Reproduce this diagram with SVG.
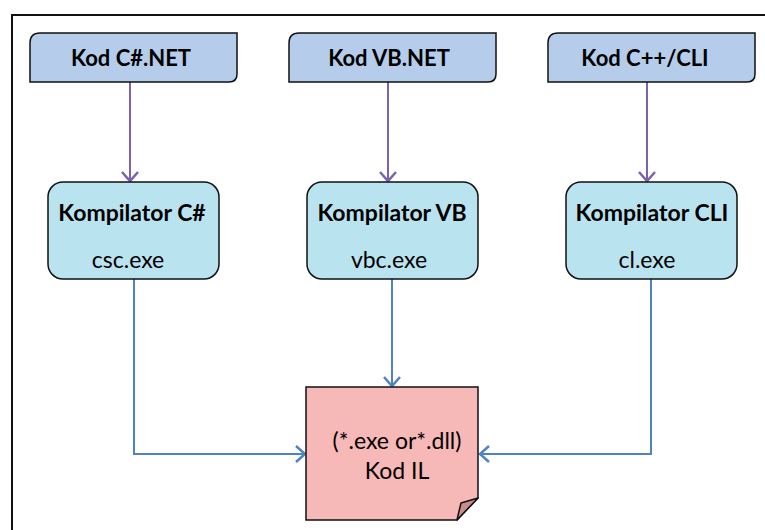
<svg xmlns="http://www.w3.org/2000/svg" width="765" height="530" viewBox="0 0 765 530">
<style>
.src{fill:#b5cdea;stroke:#111;stroke-width:1.5}
.cmp{fill:#bae3f0;stroke:#111;stroke-width:1.5}
.t{font-family:"Lato","Liberation Sans",sans-serif;fill:#000;text-anchor:middle}
.b{font-weight:bold;font-size:22px}
.b2{font-weight:bold;font-size:23px}
.r{font-size:23px}
.p{stroke:#7b63ad;stroke-width:2;fill:none}
.bl{stroke:#4f83c4;stroke-width:2;fill:none}
</style>
<defs>
<marker id="ap" markerWidth="20" markerHeight="20" refX="10" refY="10" orient="auto" markerUnits="userSpaceOnUse">
<path d="M1,2 L10,10 L1,18" fill="none" stroke="#7b63ad" stroke-width="2.5"/>
</marker>
<marker id="ab" markerWidth="20" markerHeight="20" refX="10" refY="10" orient="auto" markerUnits="userSpaceOnUse">
<path d="M1,2 L10,10 L1,18" fill="none" stroke="#4f83c4" stroke-width="2.5"/>
</marker>
</defs>
<rect x="12" y="15" width="770" height="530" fill="#fff" stroke="#111" stroke-width="2"/>
<g id="connectors">
<line class="p" x1="130" y1="82" x2="130" y2="181" marker-end="url(#ap)"/>
<line class="p" x1="388" y1="82" x2="388" y2="181" marker-end="url(#ap)"/>
<line class="p" x1="647" y1="82" x2="647" y2="181" marker-end="url(#ap)"/>
<polyline class="bl" points="134,279 134,454 305,454" marker-end="url(#ab)"/>
<line class="bl" x1="392" y1="279" x2="392" y2="386" marker-end="url(#ab)"/>
<polyline class="bl" points="651,279 651,454 480,454" marker-end="url(#ab)"/>
</g>
<g id="src-cs">
<path class="src" d="M40,33 H237 V74 Q237,82 229,82 H30 V43 Q30,33 40,33 Z"/>
<text class="t b" x="131" y="66">Kod C#.NET</text>
</g>
<g id="src-vb">
<path class="src" d="M299,33 H496 V74 Q496,82 488,82 H289 V43 Q289,33 299,33 Z"/>
<text class="t b" x="389" y="66">Kod VB.NET</text>
</g>
<g id="src-cpp">
<path class="src" d="M558,33 H755 V74 Q755,82 747,82 H548 V43 Q548,33 558,33 Z"/>
<text class="t b" x="645" y="66">Kod C++/CLI</text>
</g>
<g id="cmp-cs">
<rect class="cmp" x="48" y="182" width="171" height="97" rx="15"/>
<text class="t b2" x="132" y="221">Kompilator C#</text>
<text class="t r" x="128" y="268">csc.exe</text>
</g>
<g id="cmp-vb">
<rect class="cmp" x="307" y="182" width="171" height="97" rx="15"/>
<text class="t b2" x="392" y="221">Kompilator VB</text>
<text class="t r" x="389" y="268">vbc.exe</text>
</g>
<g id="cmp-cli">
<rect class="cmp" x="566" y="182" width="171" height="97" rx="15"/>
<text class="t b2" x="652" y="221">Kompilator CLI</text>
<text class="t r" x="647" y="268">cl.exe</text>
</g>
<g id="il">
<path d="M306,387 H478 V498 L457,520 H306 Z" fill="#f7b8b8" stroke="#111" stroke-width="1.5"/>
<path d="M478,498 L461,503 Q459,511 457,520 Z" fill="#c98b8b" stroke="#111" stroke-width="1.5" stroke-linejoin="round"/>
<text class="t r" x="397" y="449">(*.exe or*.dll)</text>
<text class="t r" x="397" y="479">Kod IL</text>
</g>
</svg>
